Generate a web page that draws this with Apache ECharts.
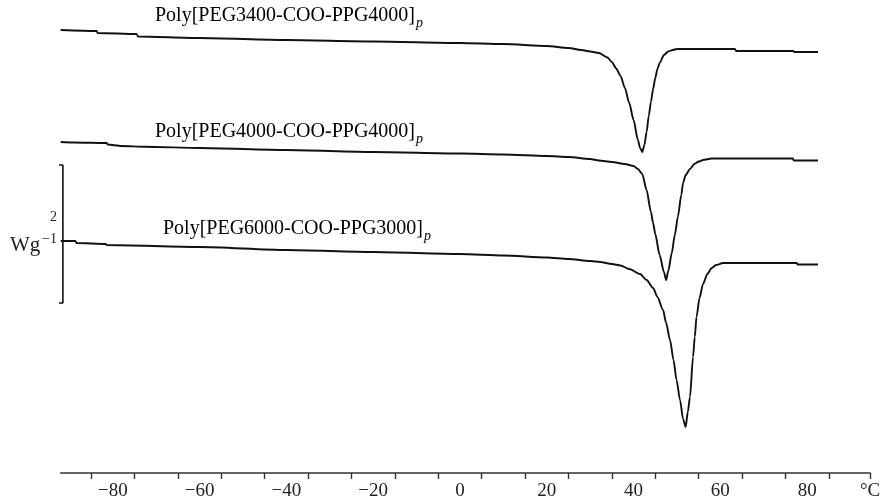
<!DOCTYPE html>
<html>
<head>
<meta charset="utf-8">
<script src="https://cdn.jsdelivr.net/npm/echarts@6/dist/echarts.min.js"></script>
<style>html,body{margin:0;padding:0;background:#fff}#c{width:884px;height:504px}</style>
</head>
<body>
<div id="c"></div>
<script>
// Temperature (°C) vs. offset heat flow (W/g, curves shifted vertically)
const seriesNames = [
  'Poly[PEG3400-COO-PPG4000]',
  'Poly[PEG4000-COO-PPG4000]',
  'Poly[PEG6000-COO-PPG3000]'
];
const peg3400 = [[-92,6.42],[-83.7,6.406],[-83.5,6.377],[-74.5,6.362],[-74.2,6.326],[-60,6.304],[-40,6.275],[-20,6.254],[0,6.232],[10,6.217],[20,6.188],[25,6.159],[28,6.130],[30,6.109],[32,6.087],[34,6.022],[35,5.957],[36,5.862],[37,5.754],[38,5.580],[39,5.362],[40,5.116],[41,4.826],[41.5,4.710],[42,4.652],[42.5,4.754],[43,4.942],[43.5,5.174],[44,5.377],[44.5,5.565],[45,5.725],[45.5,5.855],[46,5.942],[47,6.058],[48,6.109],[49,6.130],[50,6.145],[63.4,6.145],[63.6,6.116],[76.8,6.116],[77,6.101],[82.5,6.101]];
const peg4000 = [[-92,4.797],[-89,4.790],[-81.4,4.783],[-81.2,4.761],[-78,4.739],[-72.6,4.729],[-60,4.710],[-40,4.681],[-20,4.652],[0,4.630],[10,4.616],[20,4.594],[25,4.580],[30,4.551],[32,4.529],[35,4.507],[38,4.478],[40,4.449],[41,4.406],[42,4.333],[43,4.101],[44,3.783],[44.5,3.623],[45,3.464],[46,3.159],[47,2.913],[47.5,2.797],[48,2.928],[48.8,3.188],[49.5,3.449],[50.2,3.710],[51,4.029],[51.4,4.203],[52,4.319],[53,4.406],[54,4.478],[55,4.514],[56,4.536],[58,4.558],[76.7,4.558],[76.9,4.529],[82.5,4.529]];
const peg6000 = [[-92,3.362],[-88.6,3.362],[-88.4,3.333],[-81.6,3.319],[-81.4,3.304],[-60,3.275],[-40,3.232],[-20,3.203],[0,3.174],[10,3.152],[20,3.123],[25,3.101],[30,3.072],[32.3,3.058],[35,3.029],[37,3.007],[39,2.957],[41.5,2.884],[43,2.797],[44.5,2.681],[45.5,2.551],[46.8,2.362],[47.5,2.174],[48.4,1.928],[49.2,1.638],[49.9,1.348],[50.7,1.058],[51.4,0.783],[52,0.667],[52.5,0.884],[53,1.101],[53.7,1.681],[54.1,1.971],[54.5,2.261],[55.2,2.536],[56,2.739],[57,2.884],[58,2.971],[59,3.014],[60.6,3.043],[77.6,3.043],[77.8,3.022],[82.5,3.022]];
const xLabelValues = [-80,-60,-40,-20,0,20,40,60,80];
const xTickValues = [-85,-75,-65,-55,-45,-35,-25,-15,-5,5,15,25,35,45,55,65,75,85,94.5];
const xMin = -92, xMax = 94.5, xUnit = '°C';
const scaleBarRange = [2.464, 4.464]; // 2 W/g
const scaleBarValue = '2';
const yUnit = 'Wg';
const yUnitExp = '\u22121';

const FONT = '"Liberation Serif", "DejaVu Serif", serif';
const lineStyle = { color: '#111', width: 1.9 };
const mkLine = (name, data) => ({
  name, type: 'line', data, showSymbol: false, symbol: 'none',
  smooth: 0.25, smoothMonotone: 'x',
  lineStyle, animation: false, silent: true
});
const barX = -91.5, barTick = -93;

function richStyle() {
  return {
    a: { fontFamily: FONT, fontSize: 20, color: '#111', lineHeight: 24, verticalAlign: 'top' },
    p: { fontFamily: FONT, fontSize: 14, fontStyle: 'italic', color: '#111', lineHeight: 14, verticalAlign: 'top', padding: [10, 0, 0, 1] }
  };
}

const chart = echarts.init(document.getElementById('c'), null, { renderer: 'canvas' });
chart.setOption({
  animation: false,
  grid: { left: 60.7, right: 13.9, top: 0, bottom: 31, containLabel: false },
  xAxis: {
    type: 'value', min: xMin, max: xMax,
    splitLine: { show: false },
    axisLine: { show: true, lineStyle: { color: '#333', width: 1.6 } },
    axisTick: { show: true, customValues: xTickValues, length: 6, lineStyle: { color: '#333', width: 1.4 } },
    axisLabel: {
      show: true, customValues: xLabelValues.concat([xMax]), margin: 9,
      fontFamily: FONT, fontSize: 19, color: '#222',
      formatter: v => (v === xMax ? xUnit : String(v).replace('-', '\u2212'))
    }
  },
  yAxis: { type: 'value', min: 0, max: 6.855, show: false },
  graphic: [
    { type: 'text', left: 155, top: 6, silent: true,
      style: { text: '{a|' + seriesNames[0] + '}{p|p}', rich: richStyle() } },
    { type: 'text', left: 155, top: 122, silent: true,
      style: { text: '{a|' + seriesNames[1] + '}{p|p}', rich: richStyle() } },
    { type: 'text', left: 163, top: 219, silent: true,
      style: { text: '{a|' + seriesNames[2] + '}{p|p}', rich: richStyle() } },
    { type: 'text', left: 50, top: 210, silent: true,
      style: { text: scaleBarValue, font: '14px ' + FONT, fill: '#222' } },
    { type: 'text', left: 10, top: 235, silent: true,
      style: { text: yUnit, font: '21px ' + FONT, fill: '#222' } },
    { type: 'text', left: 42, top: 232, silent: true,
      style: { text: yUnitExp, font: '14px ' + FONT, fill: '#222' } }
  ],
  series: [
    mkLine(seriesNames[0], peg3400),
    mkLine(seriesNames[1], peg4000),
    mkLine(seriesNames[2], peg6000),
    { type: 'line', clip: false, showSymbol: false, symbol: 'none', silent: true,
      data: [[barTick, scaleBarRange[1]], [barX, scaleBarRange[1]], [barX, scaleBarRange[0]], [barTick, scaleBarRange[0]]],
      lineStyle: { color: '#111', width: 1.6 } }
  ]
});
</script>
</body>
</html>
